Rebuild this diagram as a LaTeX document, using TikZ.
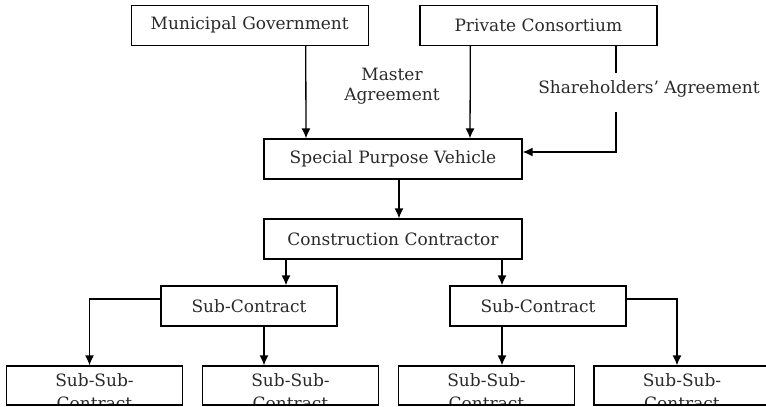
\documentclass[tikz,border=0pt]{standalone}
\usepackage{fontspec}
\setmainfont{DejaVu Serif}
\usetikzlibrary{arrows.meta}
\definecolor{inkgray}{HTML}{2a2a2a}

\tikzset{
  box/.style={draw, line width=1.3pt, minimum height=40pt, inner sep=0pt,
    text=inkgray, font=\fontsize{17}{20}\selectfont},
  lbl/.style={text=inkgray, align=center, inner sep=0pt,
    font=\fontsize{17}{20}\selectfont},
}

\begin{document}
\begin{tikzpicture}[x=1pt, y=-1pt, line width=1.3pt, >={Latex[length=10pt,width=9pt]}]
  \useasboundingbox (0,0) rectangle (766,407);
  \clip (0,0) rectangle (766,407);

  % Parties
  \node[box, minimum width=237pt] (mun) at (249.75,25.25) {Municipal Government};
  \node[box, minimum width=237pt] (cons) at (538.35,25.25) {Private Consortium};
  \node[box, minimum width=258pt] (spv) at (393,159) {Special Purpose Vehicle};
  \node[box, minimum width=258pt] (cc) at (393,239) {Construction Contractor};

  % Sub-contracts
  \node[box, minimum width=176pt] (scL) at (249,306) {Sub-Contract};
  \node[box, minimum width=176pt] (scR) at (538,306) {Sub-Contract};
  \foreach \nm/\cx in {sub1/94.5, sub2/290.5, sub3/486.5, sub4/682}
    \node[box, minimum width=176pt, minimum height=39pt,
      path picture={\node[lbl, anchor=north, font=\fontsize{17}{23}\selectfont] (\nm-txt)
        at ([yshift=-6pt]path picture bounding box.north) {Sub-Sub-\\Contract};}]
      (\nm) at (\cx,385.5) {};

  % Agreements
  \node[lbl] (master) at (392,86) {Master\\Agreement};
  \node[lbl] (shlabel) at (649,89) {Shareholders’ Agreement};
  \coordinate (sh1) at (616,73);
  \coordinate (sh2) at (616,112);

  % Arrows
  \draw[->] ([xshift=56pt]mun.south) -- ([xshift=-87pt]spv.north);
  \draw[->] ([xshift=-68pt]cons.south) -- ([xshift=77pt]spv.north);
  \draw ([xshift=77.65pt]cons.south) -- (sh1);
  \draw[->] (sh2) |- ([yshift=7pt]spv.east);
  \draw[->] ([xshift=6pt]spv.south) -- ([xshift=6pt]cc.north);
  \draw[->] ([xshift=-107pt]cc.south) -- ([xshift=37pt]scL.north);
  \draw[->] ([xshift=109pt]cc.south) -- ([xshift=-36pt]scR.north);
  \draw[->] ([yshift=7pt]scL.west) -| ([xshift=-5pt]sub1.north);
  \draw[->] ([xshift=15pt]scL.south) -- ([xshift=-26.5pt]sub2.north);
  \draw[->] ([xshift=-36pt]scR.south) -- ([xshift=15.5pt]sub3.north);
  \draw[->] ([yshift=7pt]scR.east) -| ([xshift=-5pt]sub4.north);
\end{tikzpicture}
\end{document}
